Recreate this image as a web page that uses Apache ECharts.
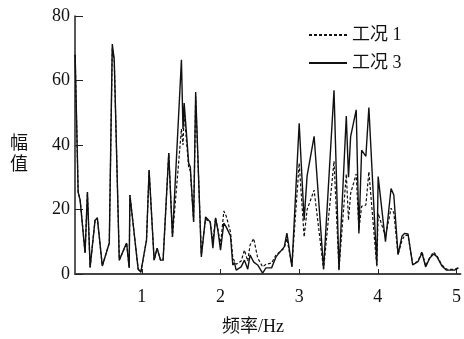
<!DOCTYPE html>
<html>
<head>
<meta charset="utf-8">
<script src="https://cdn.jsdelivr.net/npm/echarts@6/dist/echarts.min.js"></script>
<style>html,body{margin:0;padding:0;background:#fff;}#c{width:464px;height:339px;}</style>
</head>
<body>
<div id="c"></div>
<script>
const freq = [0.152,0.190,0.215,0.278,0.308,0.342,0.405,0.434,0.497,0.586,0.624,0.649,0.713,0.806,0.839,0.848,0.953,0.987,1.059,1.092,1.156,1.194,1.237,1.270,1.342,1.389,1.405,1.503,1.523,1.538,1.595,1.616,1.658,1.684,1.756,1.810,1.870,1.903,1.937,1.966,2.000,2.042,2.072,2.127,2.156,2.177,2.199,2.262,2.304,2.346,2.376,2.422,2.472,2.535,2.578,2.649,2.705,2.810,2.844,2.908,3.000,3.063,3.101,3.190,3.310,3.443,3.506,3.599,3.627,3.654,3.725,3.759,3.794,3.848,3.886,3.987,4.004,4.097,4.168,4.203,4.257,4.308,4.342,4.384,4.443,4.510,4.561,4.608,4.658,4.709,4.751,4.814,4.873,4.975,5.025];
const case3 = [68,25.4,23,6.5,25.4,2,16.7,17.4,2.5,9.6,71.3,66.4,4.3,9.6,1.9,24.5,1.5,0.6,10.5,32.2,4.3,8,4.3,4.3,37.5,11.5,11,66.4,45,53,34.4,33.2,16.1,56.4,5.3,17.7,16.1,8,17.4,13.6,7.4,15.8,14.6,11.8,2.8,3.5,1.2,2.2,4.3,1.5,5.9,3.7,2.8,0.3,1.9,1.9,5.3,8.4,12.7,2.2,46.7,16.7,30.5,42.7,1.5,57,1.2,49,30,42.6,50.9,12.6,38.4,36.5,51.6,2.8,30.2,10,26.5,24.5,6,11.8,12.6,12.4,2.8,3.8,6.5,2.2,4.9,6.2,5.4,2.5,1.2,1.2,1.9];
const case1 = [68,25.4,23,6.5,25.4,2,16.7,17.4,2.5,9.6,70,66.4,4.3,9.6,1.9,24.5,1.5,0.6,10.5,32.2,4.3,8,4.3,4.3,37.5,11.5,11,45,40,50,33,32,16.5,55,6,17,16,10,17.4,14,9,19.5,18,13,5,5.3,3,4,7.4,4,9,11,5,2.2,3,3.4,5.9,8,11,2.5,34.4,11.5,20,26,1.5,35,1.5,31,16.7,25,31,13.6,21,21.4,31.7,2.3,18.8,11.6,20.4,19,6,10.5,12,12,3,4,7,2.5,5,6.8,5.6,2.8,1.5,1.4,2];
const xTicks = [1,2,3,4,5];
const yTicks = [0,20,40,60,80];

const FONT = '"Liberation Serif","Noto Sans CJK SC",serif';
const chart = echarts.init(document.getElementById('c'), null, {renderer:'canvas'});
chart.setOption({
  animation:false,
  backgroundColor:'#fff',
  color:['#111','#111'],
  grid:{left:75,right:3,top:16,bottom:65,containLabel:false},
  legend:{
    orient:'vertical', left:303, top:21, itemWidth:38, itemHeight:14, itemGap:10,
    itemStyle:{opacity:0},
    textStyle:{fontFamily:FONT,fontSize:18,color:'#111'},
    data:['工况 1','工况 3']
  },
  xAxis:{
    type:'value', min:0.15, max:5.05,
    axisLine:{lineStyle:{color:'#444',width:2}},
    axisTick:{show:true,inside:true,length:5,customValues:xTicks,lineStyle:{color:'#222',width:1}},
    axisLabel:{customValues:xTicks,margin:14,fontFamily:FONT,fontSize:18,color:'#111'},
    splitLine:{show:false}
  },
  yAxis:{
    type:'value', min:0, max:80, interval:20,
    axisLine:{show:true,lineStyle:{color:'#222',width:1.5}},
    axisTick:{show:true,inside:true,length:8,lineStyle:{color:'#222',width:1}},
    axisLabel:{margin:5,fontFamily:FONT,fontSize:18,color:'#111'},
    splitLine:{show:false}
  },
  graphic:[
    {type:'text',left:222,top:318,style:{text:'频率/Hz',fontFamily:FONT,fontSize:18,fill:'#111'}},
    {type:'text',left:10,top:134,style:{text:'幅\n值',fontFamily:FONT,fontSize:18,fill:'#111',lineHeight:21}}
  ],
  series:[
    {name:'工况 1',type:'line',symbol:'none',z:3,
     itemStyle:{color:'#111'},
     data:freq.map((f,i)=>[f,case1[i]]),
     lineStyle:{color:'#111',width:1.2,type:[3,2]}},
    {name:'工况 3',type:'line',symbol:'none',z:2,
     itemStyle:{color:'#111'},
     data:freq.map((f,i)=>[f,case3[i]]),
     lineStyle:{color:'#111',width:1.4,type:'solid'}}
  ]
});
</script>
</body>
</html>
